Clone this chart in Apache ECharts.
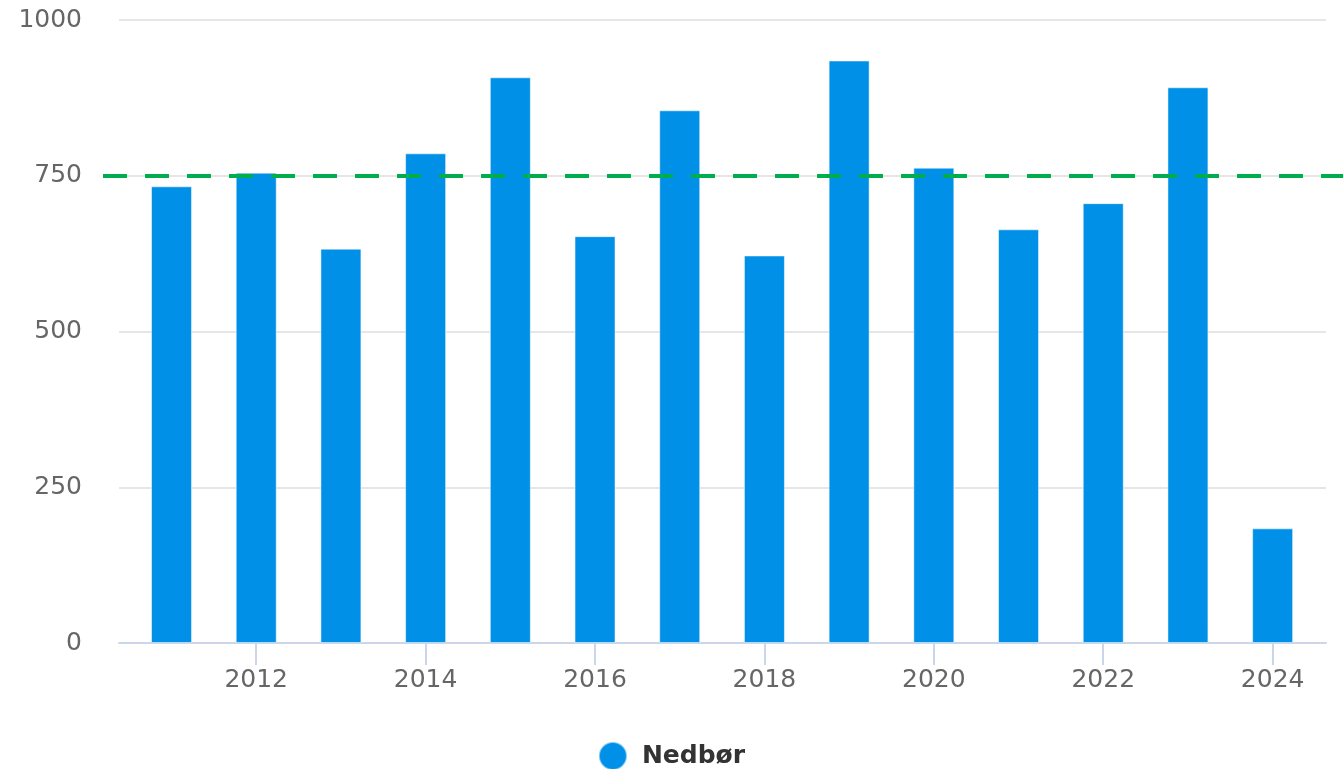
<!DOCTYPE html>
<html>
<head>
<meta charset="utf-8">
<script src="https://cdn.jsdelivr.net/npm/echarts@6/dist/echarts.min.js"></script>
<style>
  html, body { margin: 0; padding: 0; background: #fff; }
  #chart { width: 1343px; height: 769px; }
</style>
</head>
<body>
<div id="chart"></div>
<script>
// data
const years = [2011, 2012, 2013, 2014, 2015, 2016, 2017, 2018, 2019, 2020, 2021, 2022, 2023, 2024];
const nedbor = [733, 755, 633, 786, 908, 653, 855, 622, 935, 763, 664, 706, 892, 184];
const yearTicks = [2012, 2014, 2016, 2018, 2020, 2022, 2024];
const normal = 750;

const chart = echarts.init(document.getElementById("chart"));
const font = "DejaVu Sans";

chart.setOption({
  animation: false,
  textStyle: { fontFamily: font },
  legend: {
    data: ["Nedbør"],
    left: "center",
    top: 736,
    icon: "circle",
    itemWidth: 28,
    itemHeight: 28,
    textStyle: {
      fontSize: 25,
      fontWeight: "bold",
      color: "#333",
      fontFamily: font,
      padding: [0, 0, 0, 10],
    },
  },
  grid: [
    { left: 119, right: 17, top: 20, bottom: 126 },
    // wider grid only for the reference line, which runs past the plot
    { left: 103, right: 0, top: 20, bottom: 126 },
  ],
  xAxis: [
    {
      type: "value",
      gridIndex: 0,
      min: 2010.38,
      max: 2024.63,
      axisLine: { show: true, lineStyle: { color: "#ccd6eb", width: 2 } },
      axisTick: {
        show: true,
        customValues: yearTicks,
        length: 22,
        lineStyle: { color: "#ccd6eb", width: 2 },
      },
      axisLabel: {
        customValues: yearTicks,
        formatter: (v) => String(v),
        color: "#666",
        fontSize: 25,
        margin: 25,
      },
      splitLine: { show: false },
    },
    { type: "value", gridIndex: 1, min: 0, max: 1, show: false },
  ],
  yAxis: [
    {
      type: "value",
      gridIndex: 0,
      min: 0,
      max: 1000,
      interval: 250,
      axisLine: { show: false },
      axisTick: { show: false },
      axisLabel: { color: "#666", fontSize: 25, margin: 37, formatter: (v) => String(v) },
      splitLine: { lineStyle: { color: "#e6e6e6", width: 2 } },
    },
    { type: "value", gridIndex: 1, min: 0, max: 1000, show: false },
  ],
  series: [
    {
      name: "Nedbør",
      type: "bar",
      xAxisIndex: 0,
      yAxisIndex: 0,
      barWidth: 41,
      data: years.map((y, i) => [y, nedbor[i]]),
      itemStyle: {
        color: "#0190e8",
        borderColor: "rgba(255,255,255,0.5)",
        borderWidth: 1,
      },
    },
    {
      name: "normal",
      type: "line",
      xAxisIndex: 1,
      yAxisIndex: 1,
      data: [],
      markLine: {
        silent: true,
        symbol: "none",
        label: { show: false },
        lineStyle: { color: "#00ad4c", width: 4, type: [24, 18] },
        data: [{ yAxis: normal }],
      },
    },
  ],
});
</script>
</body>
</html>
